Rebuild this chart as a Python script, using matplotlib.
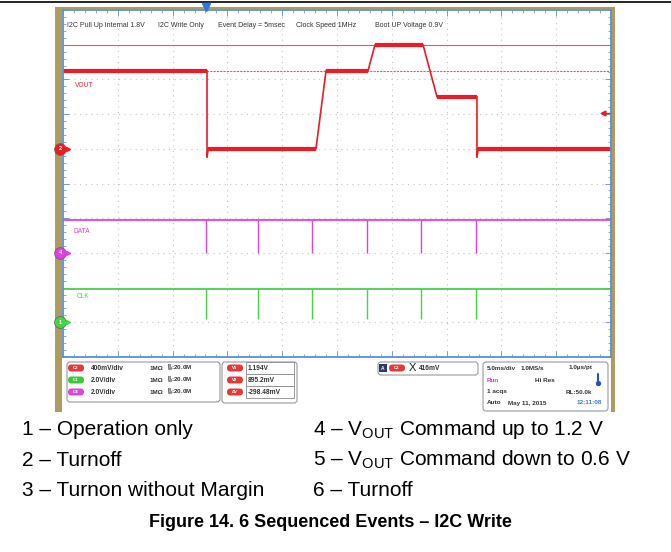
import matplotlib
matplotlib.use('Agg')
import matplotlib.pyplot as plt
from matplotlib.patches import Rectangle, FancyBboxPatch
import numpy as np

plt.rcParams['font.family'] = ['Liberation Sans', 'DejaVu Sans']
plt.rcParams['mathtext.fontset'] = 'custom'
plt.rcParams['mathtext.rm'] = 'Liberation Sans'
plt.rcParams['mathtext.bf'] = 'Liberation Sans:bold'

# scope capture, time in ms (5 ms/div), voltages in V
vout_t = [0, 13.14, 13.14, 13.25, 23.08, 24.0, 27.83, 28.47, 32.85, 34.12, 37.77, 37.77, 37.88, 50]
vout_v = [0.9, 0.9, -0.1, 0.0, 0.0, 0.9, 0.9, 1.2, 1.2, 0.6, 0.6, -0.1, 0.0, 0.0]
pulse_t = [13.05, 17.75, 22.76, 27.74, 32.66, 37.68]
data_high, data_low = 1.9, 0.0
clk_high, clk_low = 1.9, 0.2
cursor_v1, cursor_v2 = 1.194, 0.8952
trig_level = 0.416
trig_time = 13.05

# channel settings: (V/div, ground position in div)
vout_scale, vout_pos = 0.4, 1
data_scale, data_pos = 2.0, -2
clk_scale, clk_pos = 2.0, -4

header_labels = ["I2C Pull Up Internal 1.8V", "I2C Write Only", "Event Delay = 5msec",
                 "Clock Speed 1MHz", "Boot UP Voltage 0.9V"]
header_x = [67, 158, 218, 296, 375]

chan_rows = [("C2", "#e23a3a", "400mV/div"), ("C1", "#3cc83c", "2.0V/div"), ("C4", "#d44ad4", "2.0V/div")]
cursor_rows = [("V1", "1.194V"), ("V2", "895.2mV"), ("\u0394V", "-298.48mV")]

events_left = ["1 \u2013 Operation only", "2 \u2013 Turnoff", "3 \u2013 Turnon without Margin"]
events_right = ["4 \u2013 V$_{\\mathrm{OUT}}$ Command up to 1.2 V",
                "5 \u2013 V$_{\\mathrm{OUT}}$ Command down to 0.6 V",
                "6 \u2013 Turnoff"]
caption = "Figure 14. 6 Sequenced Events \u2013 I2C Write"

W, H = 671, 552
X0, X1, Y0, Y1 = 63, 611, 10, 357
RED, MAG, GRN = '#ec1c24', '#e040e0', '#44d444'
TXT = '#333333'

fig = plt.figure(figsize=(W / 100, H / 100), dpi=100)

# background / frame in pixel coordinates
bg = fig.add_axes([0, 0, 1, 1])
bg.set_xlim(0, W)
bg.set_ylim(H, 0)
bg.axis('off')
bg.plot([0, W], [2, 2], color='black', lw=1.2)
bg.add_patch(Rectangle((55, 7), 560, 405, fc='#ae9b5f', ec='none'))
bg.add_patch(Rectangle((62, 9), 549, 403, fc='white', ec='none'))

# scope screen
ax = fig.add_axes([X0 / W, 1 - Y1 / H, (X1 - X0) / W, (Y1 - Y0) / H])
ax.set_xlim(0, 50)
ax.set_ylim(-5, 5)
ax.set_xticks(np.arange(5, 50, 5))
ax.set_yticks(np.arange(-4, 5, 1))
ax.set_xticks(np.arange(0, 50.01, 1), minor=True)
ax.set_yticks(np.arange(-5, 5.01, 0.2), minor=True)
ax.tick_params(which='both', direction='in', top=True, right=True,
               labelbottom=False, labelleft=False, color='#7a9ad0')
ax.tick_params(which='major', length=4, width=0.7)
ax.tick_params(which='minor', length=2.5, width=0.6)
ax.grid(True, which='major', color='#c4c4c4', linestyle=(0, (1, 4)), lw=0.8)
for s in ax.spines.values():
    s.set_color('#5b8fd8')
    s.set_linewidth(1.3)

# cursors
ax.axhline(vout_pos + cursor_v1 / vout_scale, color='#e85a5a', lw=0.8)
ax.axhline(vout_pos + cursor_v2 / vout_scale, color='#e85a5a', lw=0.8, ls=(0, (2, 1)))

# VOUT trace
vt = np.array(vout_t)
vd = vout_pos + np.array(vout_v) / vout_scale
ax.plot(vt, vd, color=RED, lw=1.2, solid_joinstyle='miter')
for i in range(len(vt) - 1):
    if vd[i] == vd[i + 1] and vt[i + 1] > vt[i]:
        ax.plot([vt[i], vt[i + 1]], [vd[i], vd[i]], color=RED, lw=3.0, solid_capstyle='butt')

# DATA and CLK traces
ax.plot([0, 50], [data_pos + data_high / data_scale] * 2, color=MAG, lw=1.3)
ax.vlines(pulse_t, data_pos + data_low / data_scale, data_pos + data_high / data_scale, color=MAG, lw=1.0)
ax.plot([0, 50], [clk_pos + clk_high / clk_scale] * 2, color=GRN, lw=1.3)
ax.vlines(pulse_t, clk_pos + clk_low / clk_scale, clk_pos + clk_high / clk_scale, color=GRN, lw=1.0)

# trace labels
ax.text(1.1, 2.81, "VOUT", color=RED, fontsize=4.8, va='center')
ax.text(1.0, -1.37, "DATA", color=MAG, fontsize=4.8, va='center')
ax.text(1.2, -3.27, "CLK", color=GRN, fontsize=4.8, va='center')

# header notes
for lab, px in zip(header_labels, header_x):
    ax.text((px - X0) / (X1 - X0) * 50, 4.54, lab, fontsize=5.0, color=TXT, va='center')

# trigger markers
ax.plot([trig_time], [5.08], marker='v', ms=6, color='#2a78e0', clip_on=False, zorder=5)
ty = vout_pos + trig_level / vout_scale
ax.plot([49.3, 49.9], [ty, ty], color=RED, lw=1.0)
ax.plot([49.3], [ty], marker='<', ms=3.5, color=RED)

# channel ground markers
for num, pos, col in [("2", vout_pos, RED), ("4", data_pos, MAG), ("1", clk_pos, GRN)]:
    ax.plot([-0.27], [pos], marker='o', ms=8.5, color=col, mec='#606060', mew=0.5, clip_on=False, zorder=6)
    ax.text(-0.27, pos, num, fontsize=4, color='white', ha='center', va='center',
            fontweight='bold', clip_on=False, zorder=7)
    ax.plot([0.42], [pos], marker='>', ms=3, color=col, clip_on=False, zorder=6)


# info panel (pixel coordinates)
def box(x0, y0, x1, y1):
    bg.add_patch(FancyBboxPatch((x0, y0), x1 - x0, y1 - y0, boxstyle='round,pad=0,rounding_size=3',
                                fc='white', ec='#9a9a9a', lw=0.8))


def pill(x0, yc, label, col, w=16):
    bg.add_patch(FancyBboxPatch((x0, yc - 3.5), w, 7, boxstyle='round,pad=0,rounding_size=3.5',
                                fc=col, ec='none'))
    bg.text(x0 + w / 2, yc, label, fontsize=3.2, color='white', ha='center', va='center', fontweight='bold')


def small(x, y, s, col=TXT, fs=4.8, **kw):
    bg.text(x, y, s, fontsize=fs, color=col, va='center', fontweight='bold', **kw)


row_y = [368, 380, 392]
box(67, 362, 220, 402)
for (c, col, sc), y in zip(chan_rows, row_y):
    pill(68, y, c, col)
    small(91, y, sc)
    small(150, y, "1M\u03a9", fs=4.5)
    small(167, y, "$^{\\mathbf{B}}_{\\mathbf{W}}$:20.0M", fs=4.5)

box(222, 362, 297, 403)
for (c, val), y in zip(cursor_rows, row_y):
    pill(227, y, c, '#e23a3a')
    bg.add_patch(Rectangle((246, y - 6), 48, 12, fc='white', ec='#8a8a8a', lw=0.6))
    small(248, y, val)

box(378, 362, 478, 375)
bg.add_patch(Rectangle((379, 364), 8, 8, fc='#2c3a6a', ec='none'))
bg.text(383, 368, "A", fontsize=3.5, color='white', ha='center', va='center', fontweight='bold')
pill(389, 368, "C2", '#e23a3a')
bg.text(409, 368, "X", fontsize=8, color='#222222', va='center')
small(419, 368, "416mV")

box(483, 362, 608, 411)
small(487, 368, "5.0ms/div", fs=4.6)
small(521, 368, "1.0MS/s", fs=4.6)
small(569, 368, "1.0\u00b5s/pt", fs=4.6)
small(487, 380, "Run", col='#d040c0', fs=4.6)
small(535, 380, "Hi Res", fs=4.6)
bg.plot([598, 598], [374, 382], color='#2850c0', lw=1.5, solid_capstyle='round')
bg.plot([598], [383], marker='o', ms=2.8, color='#2850c0')
small(487, 392, "1 acqs", fs=4.6)
small(566, 392, "RL:50.0k", fs=4.6)
small(487, 403, "Auto", fs=4.6)
small(508, 403, "May 11, 2015", fs=4.6)
small(577, 403, "12:11:08", col='#3a7ad8', fs=4.6)

# event list and caption
for i, (l, r) in enumerate(zip(events_left, events_right)):
    y = 435 + 30.5 * i
    bg.text(22, y, l, fontsize=15, color='black', va='baseline')
    bg.text(313, y, r, fontsize=15, color='black', va='baseline')
bg.text(330, 527, caption, fontsize=13, fontweight='bold', color='black', ha='center', va='baseline')

fig.savefig('out.png', dpi=100)
